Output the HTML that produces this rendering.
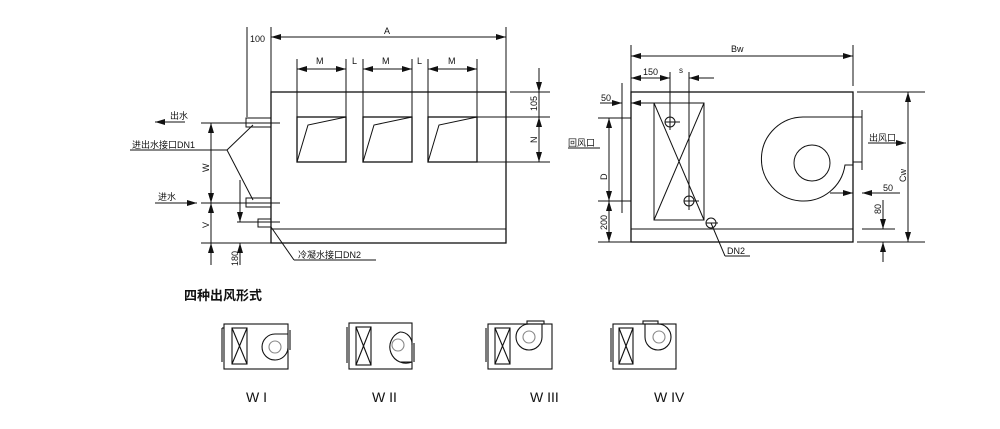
<!DOCTYPE html>
<html><head><meta charset="utf-8"><style>
html,body{margin:0;padding:0;background:#fff;width:1000px;height:429px;overflow:hidden}
svg text{font-family:"Liberation Sans","Noto Sans CJK SC",sans-serif;fill:#111}
</style></head><body>
<svg width="1000" height="429" viewBox="0 0 1000 429" xmlns="http://www.w3.org/2000/svg">
<defs>
<marker id="a" viewBox="0 0 10 6" refX="10" refY="3" markerWidth="10" markerHeight="6" markerUnits="userSpaceOnUse" orient="auto-start-reverse"><path d="M0,0L10,3L0,6z" fill="#111"/></marker>
</defs>
<g stroke="#111" stroke-width="1" fill="none">
<!-- LEFT VIEW -->
<rect x="271" y="92" width="235" height="151" stroke-width="1.3"/>
<line x1="271" y1="229" x2="506" y2="229"/>
<rect x="297" y="117" width="49" height="45" stroke-width="1.3"/>
<rect x="363" y="117" width="49" height="45" stroke-width="1.3"/>
<rect x="428" y="117" width="49" height="45" stroke-width="1.3"/>
<polyline points="297,162 308,125 346,117"/>
<polyline points="363,162 374,125 412,117"/>
<polyline points="428,162 439,125 477,117"/>
<!-- A dim -->
<line x1="247" y1="27" x2="247" y2="117"/>
<line x1="271" y1="27" x2="271" y2="92"/>
<line x1="506" y1="27" x2="506" y2="92"/>
<line x1="271" y1="37" x2="506" y2="37" marker-start="url(#a)" marker-end="url(#a)"/>
<!-- M L dims -->
<line x1="297" y1="59" x2="297" y2="117"/><line x1="346" y1="59" x2="346" y2="117"/>
<line x1="363" y1="59" x2="363" y2="117"/><line x1="412" y1="59" x2="412" y2="117"/>
<line x1="428" y1="59" x2="428" y2="117"/><line x1="477" y1="59" x2="477" y2="117"/>
<line x1="297" y1="69" x2="346" y2="69" marker-start="url(#a)" marker-end="url(#a)"/>
<line x1="363" y1="69" x2="412" y2="69" marker-start="url(#a)" marker-end="url(#a)"/>
<line x1="428" y1="69" x2="477" y2="69" marker-start="url(#a)" marker-end="url(#a)"/>
<!-- right vertical dims -->
<line x1="510" y1="92" x2="550" y2="92"/>
<line x1="477" y1="117" x2="550" y2="117"/>
<line x1="477" y1="162" x2="550" y2="162"/>
<line x1="539" y1="68" x2="539" y2="92" marker-end="url(#a)"/>
<line x1="539" y1="92" x2="539" y2="117"/>
<line x1="539" y1="117" x2="539" y2="162" marker-start="url(#a)" marker-end="url(#a)"/>
<!-- pipes -->
<rect x="246" y="118" width="25" height="9"/>
<rect x="246" y="198" width="25" height="9"/>
<rect x="258" y="219" width="13" height="8"/>
<!-- left dims -->
<line x1="201" y1="123" x2="280" y2="123"/>
<line x1="201" y1="203" x2="280" y2="203"/>
<line x1="237" y1="222" x2="280" y2="222"/>
<line x1="201" y1="243" x2="271" y2="243"/>
<line x1="211" y1="123" x2="211" y2="203" marker-start="url(#a)" marker-end="url(#a)"/>
<line x1="211" y1="203" x2="211" y2="243" marker-start="url(#a)"/>
<line x1="211" y1="243" x2="211" y2="265"/>
<line x1="211" y1="265" x2="211" y2="243" marker-end="url(#a)"/>
<line x1="240" y1="180" x2="240" y2="222" marker-end="url(#a)"/>
<line x1="240" y1="265" x2="240" y2="243" marker-end="url(#a)"/>
<!-- labels leaders -->
<line x1="185" y1="122" x2="155" y2="122" marker-end="url(#a)"/>
<line x1="130" y1="150" x2="227" y2="150"/>
<line x1="227" y1="150" x2="253" y2="125"/>
<line x1="227" y1="150" x2="253" y2="200"/>
<line x1="155" y1="203" x2="197" y2="203" marker-end="url(#a)"/>
<line x1="271" y1="227" x2="294" y2="260"/>
<line x1="294" y1="260" x2="376" y2="260"/>

<!-- RIGHT VIEW -->
<rect x="631" y="92" width="222" height="150" stroke-width="1.3"/>
<line x1="631" y1="229" x2="853" y2="229"/>
<rect x="654" y="103" width="50" height="117"/>
<line x1="654" y1="103" x2="704" y2="220"/><line x1="704" y1="103" x2="654" y2="220"/>
<circle cx="670" cy="122" r="5"/><circle cx="689" cy="201" r="5"/><circle cx="711" cy="223" r="5"/>
<line x1="670" y1="72" x2="670" y2="130"/><line x1="689" y1="72" x2="689" y2="210"/>
<line x1="665" y1="122" x2="680" y2="122"/><line x1="684" y1="201" x2="699" y2="201"/><line x1="706" y1="223" x2="718" y2="223"/>
<rect x="622" y="118" width="9" height="83"/>
<line x1="622" y1="83" x2="622" y2="213"/>
<path d="M853,117 L803,117 A42,42 0 1 0 845,165 L853,165"/>
<circle cx="812" cy="163" r="18"/>
<rect x="853" y="117" width="9" height="45"/>
<line x1="862" y1="110" x2="862" y2="170"/>
<!-- Bw -->
<line x1="631" y1="45" x2="631" y2="92"/><line x1="853" y1="45" x2="853" y2="86"/>
<line x1="631" y1="56" x2="853" y2="56" marker-start="url(#a)" marker-end="url(#a)"/>
<line x1="631" y1="78" x2="670" y2="78" marker-start="url(#a)" marker-end="url(#a)"/>
<line x1="714" y1="78" x2="689" y2="78" marker-end="url(#a)"/>
<line x1="600" y1="103" x2="622" y2="103" marker-end="url(#a)"/>
<line x1="654" y1="103" x2="631" y2="103" marker-end="url(#a)"/>
<!-- D/200 -->
<line x1="598" y1="118" x2="622" y2="118"/><line x1="598" y1="201" x2="622" y2="201"/><line x1="598" y1="242" x2="631" y2="242"/>
<line x1="609" y1="118" x2="609" y2="201" marker-start="url(#a)" marker-end="url(#a)"/>
<line x1="609" y1="201" x2="609" y2="242" marker-start="url(#a)" marker-end="url(#a)"/>
<line x1="568" y1="148" x2="600" y2="148"/>
<!-- Cw -->
<line x1="857" y1="92" x2="925" y2="92"/><line x1="857" y1="242" x2="925" y2="242"/>
<line x1="908" y1="92" x2="908" y2="242" marker-start="url(#a)" marker-end="url(#a)"/>
<line x1="868" y1="143" x2="906" y2="143" marker-end="url(#a)"/>
<line x1="830" y1="193" x2="853" y2="193" marker-end="url(#a)"/>
<line x1="900" y1="193" x2="862" y2="193" marker-end="url(#a)"/>
<line x1="862" y1="229" x2="895" y2="229"/>
<line x1="883" y1="200" x2="883" y2="229" marker-end="url(#a)"/>
<line x1="883" y1="262" x2="883" y2="242" marker-end="url(#a)"/>
<line x1="711" y1="223" x2="725" y2="256"/><line x1="725" y1="256" x2="750" y2="256"/>

<!-- SMALL UNITS -->
<g stroke-width="1.1">
<rect x="224" y="324" width="64" height="45"/><line x1="222" y1="328" x2="222" y2="362"/><line x1="224" y1="328" x2="222" y2="328"/>
<rect x="232" y="328" width="15" height="36"/><line x1="232" y1="328" x2="247" y2="364"/><line x1="247" y1="328" x2="232" y2="364"/>
<path d="M288,334 L275,334 A13,13 0 1 0 288,348"/><circle cx="275" cy="347" r="6" stroke="#888"/><line x1="290" y1="330" x2="290" y2="350"/>

<rect x="349" y="323" width="63" height="46"/><line x1="347" y1="327" x2="347" y2="363"/>
<rect x="356" y="327" width="15" height="38"/><line x1="356" y1="327" x2="371" y2="365"/><line x1="371" y1="327" x2="356" y2="365"/>
<path d="M400,332 A13,13 0 1 0 412,362 L400,362"/><path d="M400,332 A12,12 0 0 1 412,345 L412,345"/><circle cx="398" cy="345" r="6" stroke="#888"/><line x1="414" y1="343" x2="414" y2="362"/>

<rect x="488" y="324" width="64" height="45"/><line x1="486" y1="328" x2="486" y2="362"/>
<rect x="495" y="328" width="15" height="36"/><line x1="495" y1="328" x2="510" y2="364"/><line x1="510" y1="328" x2="495" y2="364"/>
<path d="M529,324 A13,13 0 1 0 542,337 L542,324"/><circle cx="529" cy="337" r="6" stroke="#888"/><rect x="527" y="321" width="17" height="3"/>

<rect x="613" y="324" width="63" height="45"/><line x1="611" y1="328" x2="611" y2="362"/>
<rect x="619" y="328" width="14" height="36"/><line x1="619" y1="328" x2="633" y2="364"/><line x1="633" y1="328" x2="619" y2="364"/>
<path d="M645,324 L645,337 A13,13 0 1 0 658,324"/><circle cx="659" cy="337" r="6" stroke="#888"/><rect x="643" y="321" width="15" height="3"/>
</g>
</g>

<g font-size="9">
<text x="250" y="42">100</text>
<text x="384" y="34">A</text>
<text x="316" y="64">M</text><text x="352" y="64">L</text><text x="382" y="64">M</text><text x="417" y="64">L</text><text x="448" y="64">M</text>
<text transform="translate(537,111) rotate(-90)">105</text>
<text transform="translate(537,143) rotate(-90)">N</text>
<text x="170" y="119">出水</text>
<text x="132" y="148">进出水接口DN1</text>
<text x="158" y="200">进水</text>
<text transform="translate(209,172) rotate(-90)">W</text>
<text transform="translate(209,228) rotate(-90)">V</text>
<text transform="translate(238,266) rotate(-90)">180</text>
<text x="298" y="258">冷凝水接口DN2</text>
<text x="731" y="52">Bw</text>
<text x="643" y="75">150</text>
<text x="679" y="73" font-size="8">s</text>
<text x="601" y="101">50</text>
<text x="568" y="146">回风口</text>
<text transform="translate(607,180) rotate(-90)">D</text>
<text transform="translate(607,230) rotate(-90)">200</text>
<text x="869" y="141">出风口</text>
<text transform="translate(906,182) rotate(-90)">Cw</text>
<text x="883" y="191">50</text>
<text transform="translate(881,214) rotate(-90)">80</text>
<text x="727" y="254">DN2</text>
</g>
<text x="184" y="300" font-size="13" font-weight="bold">四种出风形式</text>
<g font-size="14">
<text x="246" y="402">W I</text><text x="372" y="402">W II</text><text x="530" y="402">W III</text><text x="654" y="402">W IV</text>
</g>
</svg>
</body></html>
